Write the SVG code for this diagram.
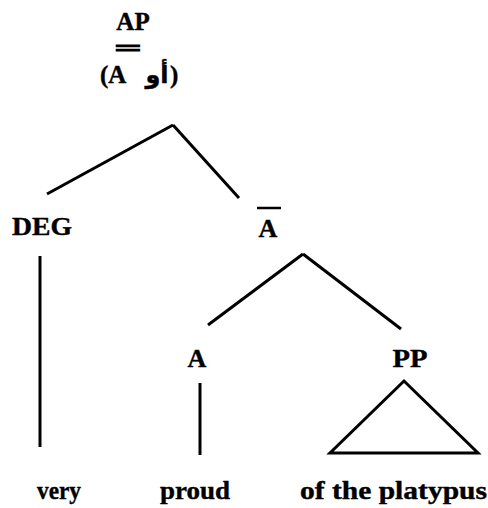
<svg xmlns="http://www.w3.org/2000/svg" width="488" height="508" viewBox="0 0 488 508">
<style>
text{font-family:"Liberation Serif","Noto Sans",serif;font-weight:bold;fill:#000;font-size:26px;stroke:#000;stroke-width:0.4}
.e{stroke:#000;stroke-width:3;fill:none;stroke-linecap:butt}
</style>
<rect width="488" height="508" fill="#fff"/>
<g id="connectors">
<line class="e" x1="173" y1="125" x2="47" y2="194"/>
<line class="e" x1="173" y1="125" x2="239" y2="198"/>
<line class="e" x1="303" y1="254" x2="208" y2="325"/>
<line class="e" x1="303" y1="254" x2="401" y2="329"/>
<line class="e" x1="40" y1="256" x2="40" y2="447"/>
<line class="e" x1="200" y1="383" x2="200" y2="455"/>
<polygon class="e" points="404,381 330,453 478,453"/>
</g>
<g id="AP">
<text x="133" y="30" text-anchor="middle" style="font-size:25px">AP</text>
<text x="128" y="56" text-anchor="middle" textLength="27" lengthAdjust="spacingAndGlyphs" style="font-size:24px;stroke-width:1.2">=</text>
<text x="100" y="83" style="font-size:25px">(A</text>
<text x="157" y="83" text-anchor="middle" style="font-family:'DejaVu Sans','Noto Sans',sans-serif;font-size:24px">أو</text>
<text x="170" y="83" style="font-size:25px">)</text>
</g>
<g id="DEG"><text x="42" y="235" text-anchor="middle" textLength="60" lengthAdjust="spacingAndGlyphs">DEG</text></g>
<g id="Abar">
<line x1="257" y1="208" x2="281" y2="208" stroke="#000" stroke-width="2.5"/>
<text x="268" y="237" text-anchor="middle">A</text>
</g>
<g id="A"><text x="197" y="367" text-anchor="middle">A</text></g>
<g id="PP"><text x="410" y="367" text-anchor="middle" textLength="35" lengthAdjust="spacingAndGlyphs">PP</text></g>
<g id="very"><text x="37" y="499" textLength="44" lengthAdjust="spacingAndGlyphs">very</text></g>
<g id="proud"><text x="160" y="499" textLength="70" lengthAdjust="spacingAndGlyphs">proud</text></g>
<g id="platypus"><text x="300" y="499" textLength="187" lengthAdjust="spacingAndGlyphs">of the platypus</text></g>
</svg>
